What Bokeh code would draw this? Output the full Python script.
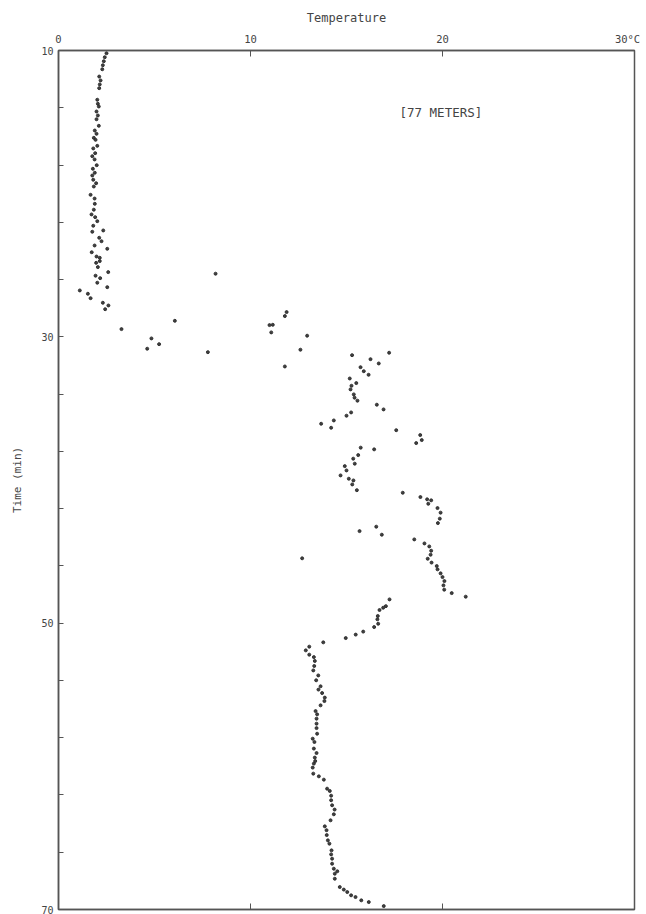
from bokeh.plotting import figure
from bokeh.models import Range1d, LinearAxis, FixedTicker, CustomJSTickFormatter
from bokeh.core.properties import value
from bokeh.embed import file_html
from bokeh.resources import INLINE

# ---- data (temperature in deg C, time in minutes) ----
col_temp = [2.50, 2.41, 2.36, 2.31, 2.28, 2.12, 2.19, 2.15, 2.12, 2.02, 2.05, 2.10, 1.98, 2.05,
            1.98, 2.10, 1.89, 1.98, 1.84, 1.93, 2.02, 1.81, 1.91, 1.76, 1.88, 1.99, 1.79, 1.89,
            1.76, 1.81, 1.96, 1.84, 1.67, 1.88, 1.89, 1.84, 1.72, 1.91, 2.02, 1.81, 2.33, 1.76,
            2.12, 2.24, 1.88, 2.54, 1.73, 1.98, 2.15, 2.15, 1.96, 2.05, 2.59, 1.93, 2.17, 2.02,
            2.54, 1.11, 1.53, 1.67, 2.31, 2.60, 2.43]
col_time = [10.19, 10.47, 10.75, 11.03, 11.31, 11.82, 12.09, 12.37, 12.63, 13.44, 13.72, 13.91,
            14.26, 14.54, 14.80, 15.26, 15.59, 15.82, 16.10, 16.24, 16.66, 16.84, 17.17, 17.38,
            17.61, 18.01, 18.26, 18.54, 18.73, 19.03, 19.27, 19.50, 20.08, 20.34, 20.71, 21.12,
            21.45, 21.64, 21.92, 22.24, 22.57, 22.66, 23.08, 23.32, 23.62, 23.85, 24.09, 24.39,
            24.48, 24.71, 24.83, 25.13, 25.48, 25.73, 25.90, 26.22, 26.53, 26.76, 26.99, 27.30,
            27.62, 27.81, 28.07]

trans_temp = [8.18, 3.28, 6.06, 4.84, 4.62, 5.24, 7.78, 11.88, 11.79, 10.99, 11.16, 11.08,
              12.95, 12.60, 11.79]
trans_time = [25.59, 29.46, 28.88, 30.11, 30.83, 30.51, 31.07, 28.27, 28.55, 29.18, 29.16,
              29.69, 29.92, 30.90, 32.07]

mid_temp = [15.29, 17.22, 16.25, 16.68, 15.73, 15.90, 16.15, 15.17, 15.51, 15.26, 15.21, 15.38,
            15.42, 15.57, 16.58, 16.93, 15.24, 15.00, 14.34, 13.68, 14.20, 17.59, 18.84, 18.92,
            18.63, 15.74, 16.44, 15.61, 15.35, 15.43, 14.91, 15.00, 14.69, 15.12, 15.36, 15.30,
            15.54, 17.93, 18.85, 19.20, 19.41, 19.26, 19.74, 19.90, 19.86, 19.76, 16.55, 15.68,
            16.84, 18.53, 19.06, 19.31, 19.41, 19.38, 19.23, 19.43, 19.70, 19.74, 19.90, 20.00,
            20.10, 20.05, 20.09, 20.48, 21.21, 12.69, 17.24, 17.05, 16.91, 16.72, 16.63, 16.61,
            16.65, 16.44, 15.87, 15.48, 14.96, 13.79, 13.06, 12.88, 13.06, 13.30, 13.35, 13.32,
            13.27]
mid_time = [31.28, 31.11, 31.56, 31.86, 32.12, 32.40, 32.65, 32.91, 33.23, 33.42, 33.67, 34.02,
            34.25, 34.46, 34.74, 35.07, 35.28, 35.51, 35.84, 36.07, 36.35, 36.52, 36.86, 37.21,
            37.42, 37.74, 37.86, 38.26, 38.51, 38.86, 39.03, 39.33, 39.68, 39.91, 40.03, 40.31,
            40.71, 40.89, 41.19, 41.35, 41.42, 41.66, 41.96, 42.28, 42.70, 43.01, 43.26, 43.57,
            43.82, 44.15, 44.43, 44.64, 44.94, 45.22, 45.50, 45.77, 46.01, 46.24, 46.52, 46.78,
            47.06, 47.36, 47.66, 47.90, 48.15, 45.47, 48.34, 48.81, 48.92, 49.08, 49.50, 49.73,
            50.04, 50.27, 50.59, 50.80, 51.04, 51.34, 51.64, 51.90, 52.20, 52.37, 52.64, 52.99,
            53.30]

low_temp = [13.53, 13.42, 13.65, 13.54, 13.73, 13.87, 13.85, 13.65, 13.39, 13.47, 13.44, 13.44,
            13.44, 13.47, 13.24, 13.33, 13.30, 13.44, 13.35, 13.37, 13.30, 13.24, 13.27, 13.56,
            13.82, 13.99, 14.13, 14.20, 14.20, 14.25, 14.38, 14.34, 14.17, 13.87, 13.96, 13.97,
            14.03, 14.11, 14.22, 14.20, 14.25, 14.25, 14.34, 14.52, 14.39, 14.39, 14.65, 14.86,
            15.04, 15.24, 15.47, 15.77, 16.16, 16.94]
low_time = [53.65, 53.99, 54.41, 54.64, 54.88, 55.20, 55.44, 55.74, 56.14, 56.37, 56.67, 57.02,
            57.33, 57.72, 58.07, 58.30, 58.76, 59.07, 59.39, 59.63, 59.81, 60.09, 60.51, 60.70,
            60.93, 61.56, 61.72, 62.05, 62.37, 62.72, 63.02, 63.35, 63.77, 64.19, 64.46, 64.80,
            65.17, 65.40, 65.87, 66.15, 66.45, 66.80, 67.15, 67.33, 67.50, 67.85, 68.43, 68.61,
            68.78, 69.01, 69.13, 69.36, 69.48, 69.76]

x_ticks = [0, 10, 20, 30]
y_ticks = list(range(10, 71, 4))
y_labeled = [10, 30, 50, 70]
depth_label = "[77 METERS]"

FONT = "DejaVu Sans Mono"
INK = "#444444"
LINE = "#555555"

p = figure(width=646, height=914, output_backend="svg", toolbar_location=None,
           x_range=Range1d(0, 30), y_range=Range1d(70, 10),
           x_axis_location="above", min_border_left=58, min_border_right=12,
           min_border_top=50, min_border_bottom=5)
p.xgrid.visible = False
p.ygrid.visible = False
p.outline_line_color = LINE
p.outline_line_width = 1.5
p.background_fill_color = "white"
p.border_fill_color = "white"

# top axis
xa = p.xaxis[0]
xa.ticker = FixedTicker(ticks=x_ticks)
xa.formatter = CustomJSTickFormatter(
    code="return tick >= 30 ? '30\u00b0C\u00a0' : String(Math.round(tick));")
xa.minor_tick_line_color = None
xa.major_tick_in = 6
xa.major_tick_out = 0
xa.major_tick_line_color = LINE
xa.axis_line_color = LINE
xa.axis_line_width = 1.5
xa.major_label_text_font = FONT
xa.major_label_text_font_size = "10.5px"
xa.major_label_text_color = INK
xa.major_label_standoff = 6
xa.axis_label = "Temperature"
xa.axis_label_text_font = FONT
xa.axis_label_text_font_size = "12px"
xa.axis_label_text_font_style = "normal"
xa.axis_label_text_color = INK
xa.axis_label_standoff = 5

# bottom axis (ticks only)
xb = LinearAxis(ticker=FixedTicker(ticks=[10, 20]),
                formatter=CustomJSTickFormatter(code="return '';"),
                major_tick_in=6, major_tick_out=0, minor_tick_line_color=None,
                major_tick_line_color=LINE, axis_line_color=LINE, axis_line_width=1.5,
                major_label_standoff=0)
p.add_layout(xb, "below")

# left axis
ya = p.yaxis[0]
ya.ticker = FixedTicker(ticks=y_ticks)
ya.formatter = CustomJSTickFormatter(
    args=dict(shown=y_labeled),
    code="return shown.includes(Math.round(tick)) ? String(Math.round(tick)) : '';")
ya.minor_tick_line_color = None
ya.major_tick_in = 5
ya.major_tick_out = 0
ya.major_tick_line_color = LINE
ya.axis_line_color = LINE
ya.axis_line_width = 1.5
ya.major_label_text_font = FONT
ya.major_label_text_font_size = "10px"
ya.major_label_text_color = INK
ya.major_label_standoff = 5
ya.axis_label = "Time (min)"
ya.axis_label_text_font = FONT
ya.axis_label_text_font_size = "11px"
ya.axis_label_text_font_style = "normal"
ya.axis_label_text_color = INK
ya.axis_label_standoff = 14

for tx, ty in [(col_temp, col_time), (trans_temp, trans_time),
               (mid_temp, mid_time), (low_temp, low_time)]:
    p.scatter(tx, ty, size=3.0, color="#2b2b2b", alpha=0.9)

p.text(x=[17.76], y=[14.33], text=[depth_label], text_font=value(FONT),
       text_font_size="12.5px", text_color=INK, text_baseline="middle", text_align="left")

open("out.html", "w").write(file_html(p, INLINE))
